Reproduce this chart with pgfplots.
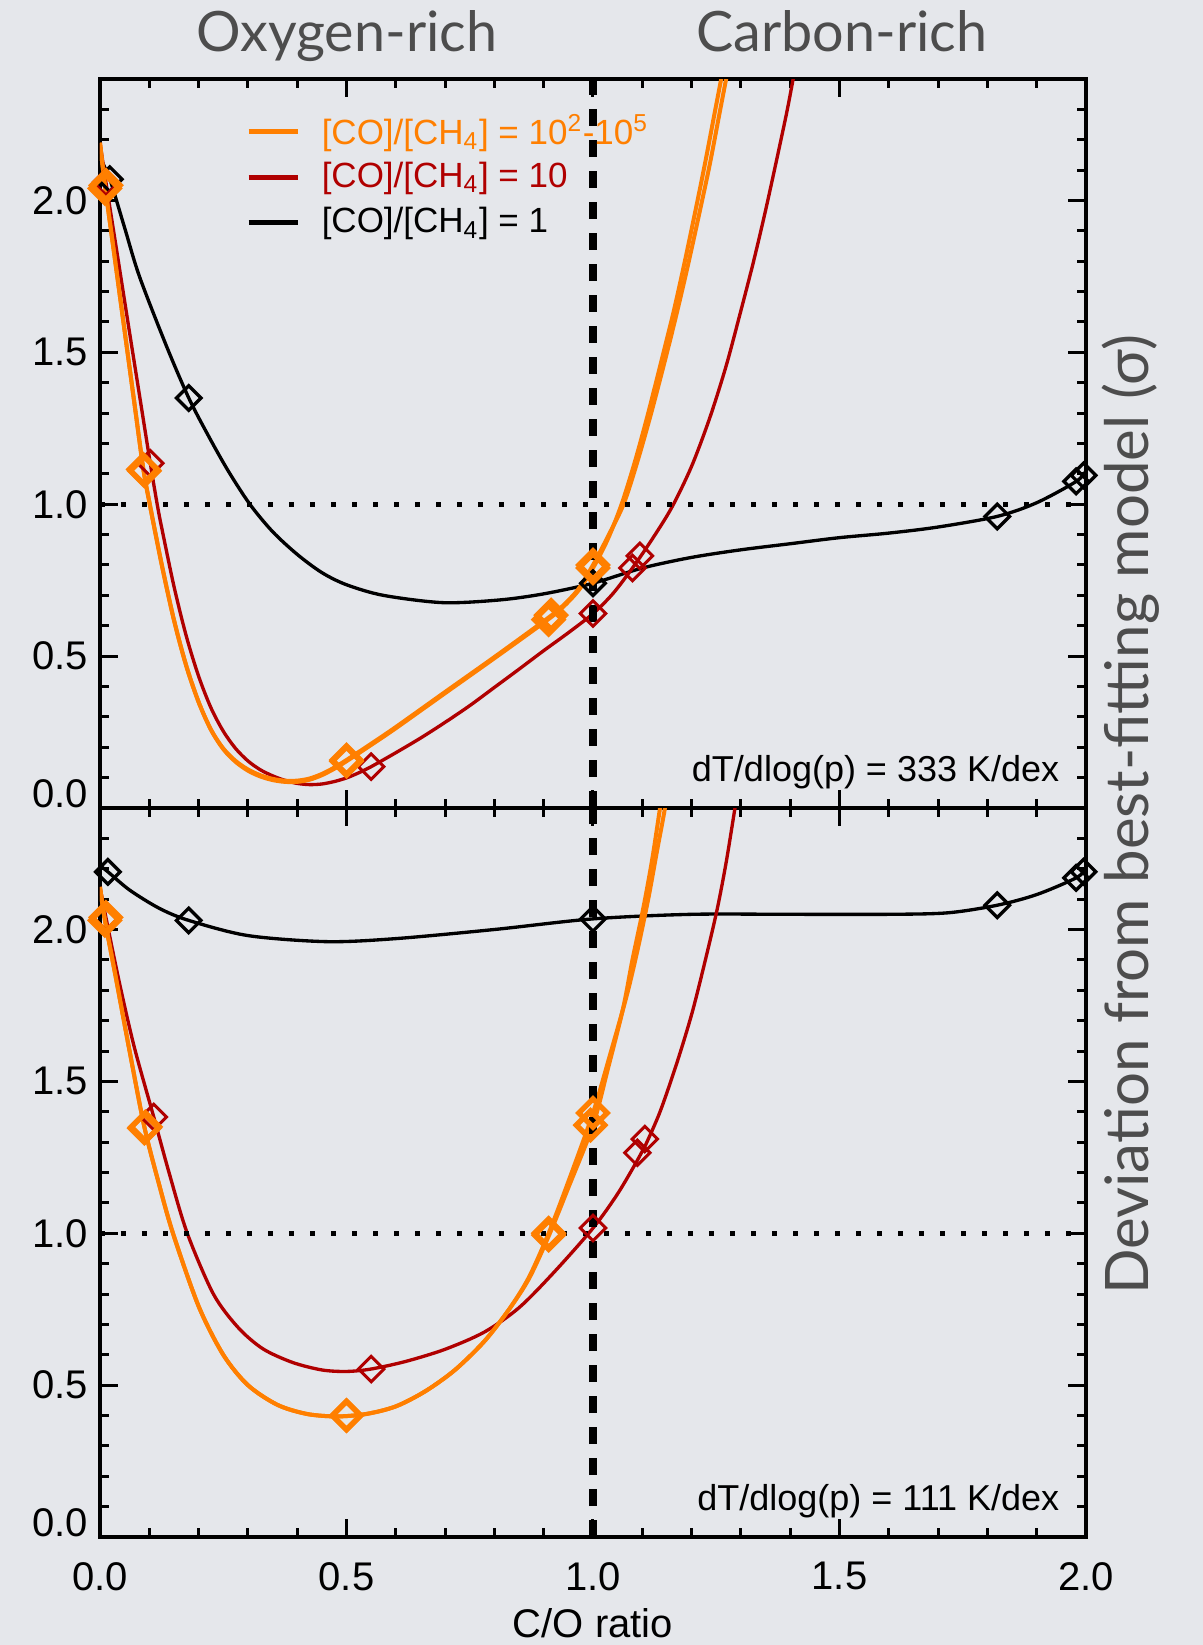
\documentclass[border=0pt]{standalone}
\usepackage{fontspec}
\setmainfont{Liberation Sans}
\newfontfamily\gillfont{Lato}
\usepackage{pgfplots}
\pgfplotsset{compat=1.18}

\definecolor{bgslide}{RGB}{229,231,235}
\definecolor{coorange}{RGB}{255,127,0}
\definecolor{cored}{RGB}{176,0,0}
\definecolor{labelgray}{RGB}{77,77,77}

% 1 px of the layout grid = 0.3pt
\pgfplotsset{
  panel/.style={
    scale only axis,
    width=295.8pt, height=218.7pt,
    xmin=0, xmax=2, ymin=0, ymax=2.4,
    axis line style={line width=1pt},
    tick style={line width=0.9pt, black},
    major tick length=5.4pt,
    minor tick length=2.7pt,
    tick align=inside,
    xtick={0,0.5,1,1.5,2},
    minor xtick={0.1,0.2,0.3,0.4,0.6,0.7,0.8,0.9,1.1,1.2,1.3,1.4,1.6,1.7,1.8,1.9},
    ytick={0.5,1,1.5,2},
    yticklabels={0.5,1.0,1.5,2.0},
    minor ytick={0.1,0.2,0.3,0.4,0.6,0.7,0.8,0.9,1.1,1.2,1.3,1.4,1.6,1.7,1.8,1.9,2.1,2.2,2.3},
    extra y ticks={0},
    extra y tick labels={0.0},
    extra y tick style={yticklabel style={anchor=east, yshift=4.3pt}},
    tick label style={font=\fontsize{12}{14}\selectfont},
    xticklabel shift=4pt,
  },
  blackline/.style={black, line width=1pt, smooth, forget plot},
  redline/.style={cored, line width=1pt, smooth, forget plot},
  orangeline/.style={coorange, line width=1.2pt, smooth, forget plot},
  diam/.style={only marks, mark=square, forget plot, mark options={rotate=45, line width=#1, fill=none}},
  oneline/.style={black, line width=1.5pt, dash pattern=on 1.6pt off 4.7pt, forget plot},
  coline/.style={black, line width=2.4pt, dash pattern=on 5.2pt off 4.1pt, forget plot},
}
\tikzset{annot/.style={anchor=base east, inner sep=0pt, font=\fontsize{10.8}{13}\selectfont}}

\begin{document}
\begin{tikzpicture}
\fill[bgslide] (0,0) rectangle (360.9pt,493.5pt);

% ---------------- upper panel: dT/dlog(p) = 333 K/dex ----------------
\begin{axis}[panel, at={(30pt,251.1pt)}, anchor=south west,
  xticklabels={},
  legend style={draw=none, fill=none, at={(axis cs:0.295,2.304)}, anchor=north west,
    inner sep=0pt, row sep=0pt, column sep=6.5pt,
    nodes={inner sep=0pt, minimum height=13.65pt},
    font=\fontsize{10.5}{12}\selectfont},
  legend cell align=left,
  legend image code/.code={\draw[#1, line width=1.5pt] (0pt,0pt) -- (14.7pt,0pt);},
]
\addlegendimage{coorange}
\addlegendentry{\textcolor{coorange}{[CO]/[CH\textsubscript{4}] = 10\textsuperscript{2}-10\textsuperscript{5}}}
\addlegendimage{cored}
\addlegendentry{\textcolor{cored}{[CO]/[CH\textsubscript{4}] = 10}}
\addlegendimage{black}
\addlegendentry{[CO]/[CH\textsubscript{4}] = 1}

% [CO]/[CH4] = 1
\addplot[blackline] coordinates {
 (0,2.14) (0.02,2.07) (0.05,1.91) (0.08,1.75) (0.135,1.52) (0.18,1.35)
 (0.22,1.225) (0.26,1.11) (0.304,1.0) (0.35,0.91) (0.40,0.835) (0.45,0.775)
 (0.50,0.735) (0.575,0.70) (0.696,0.676) (0.811,0.685) (0.90,0.705) (1.00,0.74)
 (1.10,0.79) (1.20,0.825) (1.30,0.85) (1.40,0.87) (1.50,0.89) (1.60,0.905)
 (1.70,0.925) (1.82,0.96) (1.90,1.005) (1.98,1.075) (2.00,1.11)};
\addplot[diam=1pt, black, mark size=2.6pt] coordinates {
 (0.02,2.07) (0.18,1.35) (1.0,0.74) (1.82,0.96) (1.98,1.075) (1.995,1.095)};

% [CO]/[CH4] = 10
\addplot[redline] coordinates {
 (0,2.19) (0.012,2.06) (0.03,1.875) (0.06,1.565) (0.08,1.36) (0.102,1.135)
 (0.116,1.0) (0.125,0.924) (0.15,0.730) (0.175,0.566) (0.20,0.434) (0.225,0.330)
 (0.25,0.253) (0.275,0.196) (0.30,0.155) (0.325,0.126) (0.35,0.106) (0.375,0.091)
 (0.40,0.081) (0.425,0.077) (0.45,0.079) (0.475,0.087) (0.50,0.099) (0.525,0.116)
 (0.55,0.136) (0.60,0.182) (0.65,0.23) (0.70,0.282) (0.75,0.337) (0.80,0.397)
 (0.85,0.457) (0.90,0.518) (0.95,0.577) (1.0,0.64) (1.04,0.705) (1.08,0.79)
 (1.12,0.885) (1.16,0.99) (1.20,1.125) (1.237,1.285) (1.27,1.455) (1.298,1.625)
 (1.325,1.795) (1.349,1.96) (1.372,2.13) (1.393,2.29) (1.406,2.40) (1.42,2.52)};
\addplot[diam=0.9pt, cored, mark size=2.7pt] coordinates {
 (0.012,2.06) (0.102,1.135) (0.55,0.136) (1.0,0.64) (1.08,0.79) (1.095,0.83)};

% [CO]/[CH4] = 10^2 and 10^5
\addplot[orangeline] coordinates {
 (0,2.19) (0.01,2.05) (0.03,1.81) (0.05,1.57) (0.07,1.33) (0.088,1.115)
 (0.10,1.008) (0.125,0.803) (0.15,0.619) (0.175,0.468) (0.20,0.349) (0.225,0.258)
 (0.25,0.194) (0.275,0.152) (0.30,0.123) (0.325,0.104) (0.35,0.092) (0.375,0.086)
 (0.40,0.086) (0.425,0.093) (0.45,0.108) (0.475,0.129) (0.50,0.154) (0.55,0.2075)
 (0.60,0.2625) (0.70,0.378) (0.80,0.493) (0.90,0.61) (0.935,0.655) (0.97,0.715)
 (1.00,0.79) (1.03,0.885) (1.058,1.0) (1.085,1.14) (1.112,1.30) (1.14,1.48)
 (1.163,1.63) (1.185,1.79) (1.207,1.96) (1.227,2.12) (1.247,2.29) (1.26,2.40)
 (1.275,2.53)};
\addplot[orangeline] coordinates {
 (0,2.19) (0.01,2.05) (0.03,1.81) (0.05,1.57) (0.07,1.33) (0.088,1.115)
 (0.10,1.008) (0.125,0.803) (0.15,0.619) (0.175,0.468) (0.20,0.349) (0.225,0.258)
 (0.25,0.196) (0.275,0.155) (0.30,0.127) (0.325,0.108) (0.35,0.096) (0.375,0.090)
 (0.40,0.090) (0.425,0.097) (0.45,0.112) (0.475,0.133) (0.50,0.158) (0.55,0.2115)
 (0.60,0.2665) (0.70,0.382) (0.80,0.497) (0.90,0.615) (0.935,0.66) (0.97,0.72)
 (1.00,0.80) (1.03,0.893) (1.062,1.0) (1.09,1.14) (1.118,1.30) (1.147,1.48)
 (1.170,1.63) (1.193,1.79) (1.216,1.96) (1.237,2.12) (1.257,2.29) (1.270,2.40)
 (1.285,2.53)};
\addplot[diam=1.6pt, coorange, mark size=3pt] coordinates {
 (0.01,2.04) (0.088,1.115) (0.50,0.154) (0.91,0.62) (1.0,0.79)};
\addplot[diam=1.6pt, coorange, mark size=3pt] coordinates {
 (0.012,2.05) (0.09,1.11) (0.50,0.158) (0.915,0.635) (1.0,0.80)};

% reference lines
\addplot[oneline] coordinates {(0,1) (2,1)};
\addplot[coline] coordinates {(1,0) (1,2.4)};

\node[annot] at (axis cs:1.947,0.086) {dT/dlog(p) = 333 K/dex};
\end{axis}

% ---------------- lower panel: dT/dlog(p) = 111 K/dex ----------------
\begin{axis}[panel, at={(30pt,32.4pt)}, anchor=south west,
  xticklabels={0.0,0.5,1.0,1.5,2.0},
]
% [CO]/[CH4] = 1
\addplot[blackline] coordinates {
 (0,2.21) (0.016,2.19) (0.06,2.13) (0.12,2.07) (0.18,2.03) (0.30,1.98)
 (0.46,1.96) (0.60,1.97) (0.80,2.00) (1.00,2.035) (1.20,2.05) (1.40,2.05)
 (1.60,2.05) (1.72,2.055) (1.82,2.08) (1.90,2.115) (1.98,2.17) (2.00,2.20)};
\addplot[diam=1pt, black, mark size=2.6pt] coordinates {
 (0.016,2.19) (0.18,2.03) (1.0,2.035) (1.82,2.08) (1.98,2.17) (1.995,2.19)};

% [CO]/[CH4] = 10
\addplot[redline] coordinates {
 (0,2.14) (0.012,2.04) (0.04,1.82) (0.07,1.61) (0.109,1.383) (0.14,1.20)
 (0.177,1.0) (0.23,0.80) (0.28,0.69) (0.33,0.62) (0.39,0.575) (0.45,0.55)
 (0.50,0.545) (0.55,0.553) (0.62,0.578) (0.70,0.618) (0.78,0.675) (0.85,0.755)
 (0.92,0.87) (1.0,1.017) (1.05,1.13) (1.09,1.24) (1.105,1.285) (1.136,1.40)
 (1.17,1.56) (1.20,1.72) (1.225,1.88) (1.251,2.06) (1.27,2.22) (1.288,2.40)
 (1.30,2.52)};
\addplot[diam=0.9pt, cored, mark size=2.7pt] coordinates {
 (0.012,2.04) (0.109,1.383) (0.55,0.553) (1.0,1.017) (1.09,1.265) (1.105,1.31)};

% [CO]/[CH4] = 10^2 and 10^5
\addplot[orangeline] coordinates {
 (0,2.14) (0.01,2.03) (0.03,1.86) (0.06,1.60) (0.09,1.35) (0.12,1.16)
 (0.148,1.0) (0.20,0.76) (0.25,0.60) (0.30,0.50) (0.36,0.435) (0.42,0.405)
 (0.48,0.397) (0.54,0.405) (0.60,0.43) (0.66,0.48) (0.72,0.55) (0.78,0.645)
 (0.83,0.75) (0.87,0.85) (0.91,0.99) (0.95,1.15) (1.0,1.356) (1.03,1.54)
 (1.061,1.74) (1.08,1.90) (1.102,2.07) (1.12,2.23) (1.136,2.40) (1.15,2.55)};
\addplot[orangeline] coordinates {
 (0,2.14) (0.01,2.03) (0.03,1.86) (0.06,1.60) (0.09,1.35) (0.12,1.16)
 (0.148,1.0) (0.20,0.76) (0.25,0.60) (0.30,0.50) (0.36,0.435) (0.42,0.405)
 (0.48,0.397) (0.54,0.405) (0.60,0.43) (0.66,0.48) (0.72,0.55) (0.78,0.645)
 (0.83,0.75) (0.87,0.855) (0.91,1.0) (0.95,1.17) (1.0,1.396) (1.035,1.59)
 (1.068,1.78) (1.09,1.93) (1.112,2.10) (1.13,2.26) (1.146,2.40) (1.16,2.55)};
\addplot[diam=1.6pt, coorange, mark size=3pt] coordinates {
 (0.01,2.03) (0.09,1.346) (0.50,0.40) (0.91,0.994) (0.995,1.356)};
\addplot[diam=1.6pt, coorange, mark size=3pt] coordinates {
 (0.012,2.04) (0.092,1.35) (0.50,0.40) (0.91,1.0) (1.0,1.396)};

% reference lines
\addplot[oneline] coordinates {(0,1) (2,1)};
\addplot[coline] coordinates {(1,0) (1,2.4)};

\node[annot] at (axis cs:1.947,0.086) {dT/dlog(p) = 111 K/dex};
\end{axis}

% labels around the panels
\node[anchor=base, font=\fontsize{12}{14}\selectfont] at (177.9pt,2.4pt) {C/O ratio};
\node[anchor=base, text=labelgray, font=\gillfont\fontsize{16.7}{20}\selectfont] at (104.1pt,477.9pt) {Oxygen-rich};
\node[anchor=base, text=labelgray, font=\gillfont\fontsize{16.7}{20}\selectfont] at (252.6pt,477.9pt) {Carbon-rich};
\node[rotate=90, text=labelgray, font=\gillfont\fontsize{18}{21}\selectfont] at (339.3pt,249pt) {Deviation from best-fitting model (σ)};

\pgfresetboundingbox
\useasboundingbox (0,0) rectangle (360.9pt,493.5pt);
\end{tikzpicture}
\end{document}
